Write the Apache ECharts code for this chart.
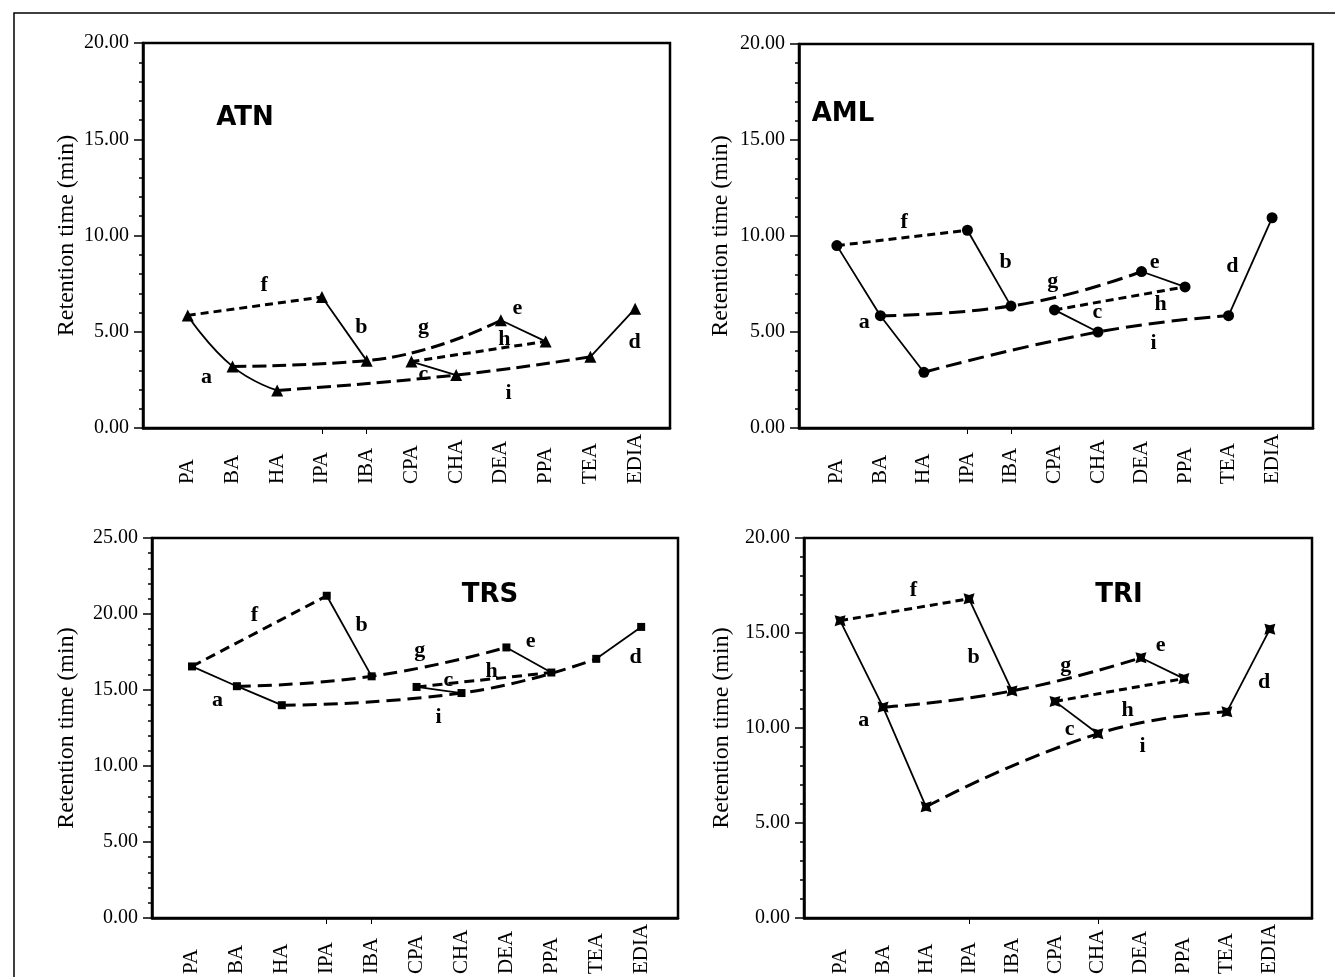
<!DOCTYPE html>
<html>
<head>
<meta charset="utf-8">
<title>Retention time</title>
<script src="https://cdn.jsdelivr.net/npm/echarts@6/dist/echarts.min.js"></script>
<style>
html, body { margin: 0; padding: 0; background: #fff; }
#main { width: 1335px; height: 977px; }
</style>
</head>
<body>
<div id="main"></div>
<script>
var categories = ['PA', 'BA', 'HA', 'IPA', 'IBA', 'CPA', 'CHA', 'DEA', 'PPA', 'TEA', 'EDIA'];

// retention time (min) for each category, one list per solute
var atnTimes = [5.85, 3.2, 1.95, 6.8, 3.5, 3.45, 2.75, 5.6, 4.5, 3.7, 6.2];
var amlTimes = [9.5, 5.85, 2.9, 10.3, 6.35, 6.15, 5.0, 8.15, 7.35, 5.85, 10.95];
var trsTimes = [16.55, 15.25, 14.0, 21.2, 15.9, 15.2, 14.8, 17.8, 16.15, 17.05, 19.15];
var triTimes = [15.65, 11.1, 5.85, 16.8, 11.95, 11.4, 9.7, 13.7, 12.6, 10.85, 15.2];

// lettered lines and the categories they join
var lineA = ['PA', 'BA', 'HA'];
var lineB = ['IPA', 'IBA'];
var lineC = ['CPA', 'CHA'];
var lineD = ['TEA', 'EDIA'];
var lineE = ['DEA', 'PPA'];
var lineF = ['PA', 'IPA'];
var lineG = ['BA', 'IBA', 'DEA'];
var lineH = ['CPA', 'PPA'];
var lineI = ['HA', 'CHA', 'TEA'];

// letter annotations: [letter, category position, time]
var atnLetters = [['a', 0.43, 2.6], ['b', 3.89, 5.2], ['c', 5.28, 2.75], ['d', 10.0, 4.4], ['e', 7.38, 6.2], ['f', 1.72, 7.4], ['g', 5.28, 5.2], ['h', 7.09, 4.6], ['i', 7.18, 1.8]];
var amlLetters = [['a', 0.64, 5.5], ['b', 3.89, 8.6], ['c', 6.0, 6.0], ['d', 9.1, 8.4], ['e', 7.31, 8.6], ['f', 1.56, 10.7], ['g', 4.97, 7.6], ['h', 7.45, 6.4], ['i', 7.29, 4.4]];
var trsLetters = [['a', 0.58, 14.3], ['b', 3.79, 19.2], ['c', 5.72, 15.6], ['d', 9.89, 17.1], ['e', 7.55, 18.2], ['f', 1.4, 19.9], ['g', 5.08, 17.6], ['h', 6.68, 16.2], ['i', 5.5, 13.2]];
var triLetters = [['a', 0.56, 10.4], ['b', 3.12, 13.7], ['c', 5.35, 9.9], ['d', 9.88, 12.4], ['e', 7.47, 14.3], ['f', 1.72, 17.2], ['g', 5.26, 13.25], ['h', 6.7, 10.9], ['i', 7.05, 9.0]];

var chart = echarts.init(document.getElementById('main'), null, { renderer: 'canvas' });

var SERIF = '"Liberation Serif", "Times New Roman", serif';
var starPath = 'path://M0,0 L10,3 L20,0 L17,10 L20,20 L10,17 L0,20 L3,10 Z';

// one entry per panel
var panels = [
    { title: 'ATN', titlePos: [245, 118], times: atnTimes, letters: atnLetters, yMax: 20,
      grid: { left: 143, top: 43, width: 527, height: 385 }, xMin: -1, xMax: 10.78, nameGap: 64,
      symbol: 'triangle', symbolSize: 12, smoothA: 0.5, xTicks: [3, 4], shortDash: [8, 5], longDash: [14, 6] },
    { title: 'AML', titlePos: [843, 114], times: amlTimes, letters: amlLetters, yMax: 20,
      grid: { left: 799, top: 44, width: 514, height: 384 }, xMin: -0.87, xMax: 10.94, nameGap: 66,
      symbol: 'circle', symbolSize: 11, smoothA: 0, xTicks: [3, 4], shortDash: [8, 5], longDash: [16, 7] },
    { title: 'TRS', titlePos: [490, 595], times: trsTimes, letters: trsLetters, yMax: 25,
      grid: { left: 152, top: 538, width: 526, height: 385 }, xMin: -0.89, xMax: 10.82, nameGap: 73,
      symbol: 'rect', symbolSize: 8, smoothA: 0, xTicks: [3, 4], shortDash: [10, 6], longDash: [14, 7] },
    { title: 'TRI', titlePos: [1119, 595], times: triTimes, letters: triLetters, yMax: 20,
      grid: { left: 804, top: 538, width: 508, height: 385 }, xMin: -0.84, xMax: 10.98, nameGap: 70,
      symbol: starPath, symbolSize: 11, smoothA: 0, xTicks: [3, 6], shortDash: [8, 5], longDash: [15, 7] }
];

function pointsOf(times, cats) {
    return cats.map(function (c) {
        var i = categories.indexOf(c);
        return [i, times[i]];
    });
}

function lineSeries(idx, times, cats, dash, width, smooth) {
    return {
        type: 'line', xAxisIndex: idx, yAxisIndex: idx,
        data: pointsOf(times, cats),
        symbol: 'none', smooth: smooth, silent: true, z: 2,
        lineStyle: { color: '#000', width: width, type: dash }
    };
}

var grids = [], xAxes = [], yAxes = [], series = [], graphics = [];

panels.forEach(function (p, idx) {
    grids.push(Object.assign({ show: true, borderColor: '#000', borderWidth: 2.5, backgroundColor: 'transparent' }, p.grid));

    xAxes.push({
        type: 'value', gridIndex: idx, min: p.xMin, max: p.xMax,
        splitLine: { show: false },
        axisLine: { show: true, onZero: false, lineStyle: { color: '#000', width: 2.5 } },
        axisTick: { show: true, customValues: p.xTicks, length: 6, lineStyle: { color: '#000', width: 1 } },
        axisLabel: {
            customValues: categories.map(function (c, i) { return i; }),
            formatter: function (v) { return categories[Math.round(v)]; },
            rotate: 90, align: 'left', margin: 56,
            fontFamily: SERIF, fontSize: 21, color: '#000'
        }
    });

    yAxes.push({
        type: 'value', gridIndex: idx, min: 0, max: p.yMax, interval: 5,
        name: 'Retention time (min)', nameLocation: 'middle', nameGap: p.nameGap,
        nameTextStyle: { fontFamily: SERIF, fontSize: 24, color: '#000' },
        splitLine: { show: false },
        axisLine: { show: true, onZero: false, lineStyle: { color: '#000', width: 2.5 } },
        axisTick: { show: true, length: 9, lineStyle: { color: '#000', width: 1.5 } },
        minorTick: { show: true, splitNumber: 5, length: 4, lineStyle: { color: '#000', width: 1.5 } },
        axisLabel: {
            formatter: function (v) { return v.toFixed(2); },
            margin: 14, fontFamily: SERIF, fontSize: 20, color: '#000'
        }
    });

    // solid lines a-e
    series.push(lineSeries(idx, p.times, lineA, 'solid', 1.8, p.smoothA));
    series.push(lineSeries(idx, p.times, lineB, 'solid', 1.8, 0));
    series.push(lineSeries(idx, p.times, lineC, 'solid', 1.8, 0));
    series.push(lineSeries(idx, p.times, lineD, 'solid', 1.8, 0));
    series.push(lineSeries(idx, p.times, lineE, 'solid', 1.8, 0));
    // dashed lines f-i
    series.push(lineSeries(idx, p.times, lineF, p.shortDash, 3, 0));
    series.push(lineSeries(idx, p.times, lineG, p.longDash, 3, 0.5));
    series.push(lineSeries(idx, p.times, lineH, p.shortDash, 3, 0));
    series.push(lineSeries(idx, p.times, lineI, p.longDash, 3, 0.5));

    // markers
    series.push({
        type: 'scatter', xAxisIndex: idx, yAxisIndex: idx, silent: true, z: 3,
        symbol: p.symbol, symbolSize: p.symbolSize,
        itemStyle: { color: '#000', opacity: 1 },
        data: pointsOf(p.times, categories)
    });

    // letters
    series.push({
        type: 'scatter', xAxisIndex: idx, yAxisIndex: idx, silent: true, z: 4,
        symbol: 'circle', symbolSize: 1,
        itemStyle: { color: 'rgba(255,255,255,0)' },
        label: { show: true, position: [0, 0], align: 'center', verticalAlign: 'middle', formatter: '{b}',
                 fontFamily: SERIF, fontWeight: 'bold', fontSize: 22, color: '#000', textBorderWidth: 0, opacity: 1 },
        data: p.letters.map(function (l) { return { name: l[0], value: [l[1], l[2]] }; })
    });

    graphics.push({
        type: 'text', x: p.titlePos[0], y: p.titlePos[1], z: 10,
        style: { text: p.title, font: 'bold 26px "DejaVu Sans"', fill: '#000',
                 align: 'center', verticalAlign: 'middle', textAlign: 'center', textVerticalAlign: 'middle' }
    });
});

// outer frame round the figure
graphics.push({
    type: 'rect', z: 0,
    shape: { x: 14, y: 13, width: 1400, height: 1100 },
    style: { fill: 'none', stroke: '#000', lineWidth: 1.5 }
});

chart.setOption({
    animation: false,
    backgroundColor: '#fff',
    grid: grids,
    xAxis: xAxes,
    yAxis: yAxes,
    series: series,
    graphic: graphics
});
</script>
</body>
</html>
